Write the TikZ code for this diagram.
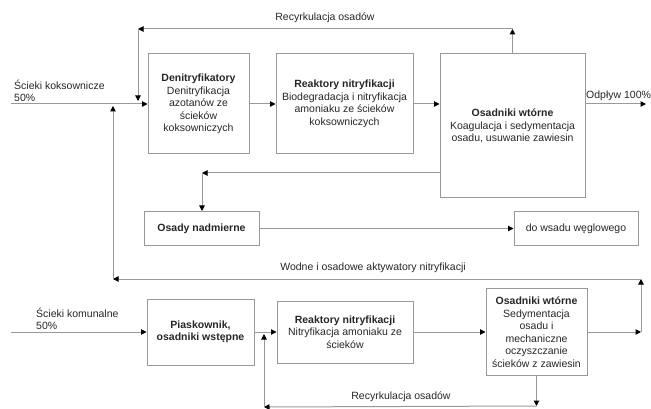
\documentclass[tikz,border=0pt]{standalone}
\usepackage{fontspec}
\setmainfont{Liberation Sans}
\usetikzlibrary{arrows.meta}

\begin{document}
\begin{tikzpicture}[x=1pt, y=-1pt,
    line/.style={draw=gray!80, line width=1pt},
    flow/.style={line, -{Triangle[length=5.5pt, width=5.5pt, color=black]}},
    box/.style={draw=gray!80, line width=1pt, align=center, inner sep=2pt,
        text=black!85, font=\fontsize{10.5}{12.5}\selectfont},
    lbl/.style={inner sep=0pt, text=black!85, font=\fontsize{10.5}{12.5}\selectfont}]

    % Fix the picture size
    \useasboundingbox (0,0) rectangle (651,409);

    % Upper line: coke-plant wastewater
    \node[box, minimum width=101pt, minimum height=100pt] (den) at (198.5,104)
        {\textbf{Denitryfikatory}\\Denitryfikacja\\azotanów ze\\ścieków\\koksowniczych};
    \node[box, minimum width=137pt, minimum height=100pt] (rn1) at (344.5,104)
        {\textbf{Reaktory nitryfikacji}\\Biodegradacja i nitryfikacja\\amoniaku ze ścieków\\koksowniczych};
    \node[box, minimum width=145pt, minimum height=144pt] (os1) at (512.5,126)
        {\textbf{Osadniki wtórne}\\Koagulacja i sedymentacja\\osadu, usuwanie zawiesin};

    % Excess sludge
    \node[box, minimum width=115pt, minimum height=34pt] (nad) at (201.5,228.5)
        {\textbf{Osady nadmierne}};
    \node[box, minimum width=124pt, minimum height=34pt] (wsad) at (576,228.5)
        {do wsadu węglowego};

    % Lower line: municipal wastewater
    \node[box, minimum width=107pt, minimum height=66pt] (pia) at (200.5,332)
        {\textbf{Piaskownik,}\\\textbf{osadniki wstępne}};
    \node[box, minimum width=136pt, minimum height=62pt] (rn2) at (345,332)
        {\textbf{Reaktory nitryfikacji}\\Nitryfikacja amoniaku ze\\ścieków};
    \node[box, minimum width=101pt, minimum height=87pt] (os2) at (536.5,332)
        {\textbf{Osadniki wtórne}\\Sedymentacja\\osadu i\\mechaniczne\\oczyszczanie\\ścieków z zawiesin};

    % Free ends and corners of the connectors
    \coordinate (in1) at (11,104);
    \coordinate (out1) at (646,104);
    \coordinate (rc1) at (512.5,29);
    \coordinate (rc2) at (138,29);
    \coordinate (rc3) at (138,101);
    \coordinate (ret1) at (440,173);
    \coordinate (ret2) at (202,173);
    \coordinate (akt1) at (641,332);
    \coordinate (akt2) at (641,279);
    \coordinate (akt3) at (113,279);
    \coordinate (akt4) at (113,106);
    \coordinate (in2) at (11,332);
    \coordinate (rc4) at (536.5,406);
    \coordinate (rc5) at (264,407);
    \coordinate (rc6) at (264,334);

    % Upper flow
    \draw[flow] (in1) -- (den.west);
    \draw[flow] (den) -- (rn1);
    \draw[flow] (rn1.east) -- (rn1.east -| os1.west);
    \draw[flow] (os1.east |- out1) -- (out1);

    % Upper sludge recirculation
    \draw[flow] (os1.north) -- (rc1);
    \draw[flow] (rc1) -- (rc2);
    \draw[flow] (rc2) -- (rc3);

    % Excess sludge
    \draw[flow] (ret1) -- (ret2);
    \draw[flow] (ret2) -- (ret2 |- nad.north);
    \draw[flow] (nad) -- (wsad);

    % Activators back to the upper line
    \draw[flow] (os2.east) -- (akt1);
    \draw[flow] (akt1) -- (akt2);
    \draw[flow] (akt2) -- (akt3);
    \draw[flow] (akt3) -- (akt4);

    % Lower flow
    \draw[flow] (in2) -- (pia.west);
    \draw[flow] (pia) -- (rn2);
    \draw[flow] (rn2) -- (os2);

    % Lower sludge recirculation
    \draw[flow] (os2.south) -- (rc4);
    \draw[flow] (rc4) -- (rc5);
    \draw[flow] (rc5) -- (rc6);

    % Labels
    \node[lbl] (recTop) at (325,18) {Recyrkulacja osadów};
    \node[lbl] (akt) at (373,268) {Wodne i osadowe aktywatory nitryfikacji};
    \node[lbl] (recBot) at (401,397) {Recyrkulacja osadów};
    \node[lbl, anchor=west, align=left] (kokso) at (14,91) {Ścieki koksownicze\\50\%};
    \node[lbl, anchor=west, align=left] (komu) at (36,319) {Ścieki komunalne\\50\%};
    \node[lbl, anchor=west] (odp) at (586,96) {Odpływ 100\%};

\end{tikzpicture}
\end{document}
